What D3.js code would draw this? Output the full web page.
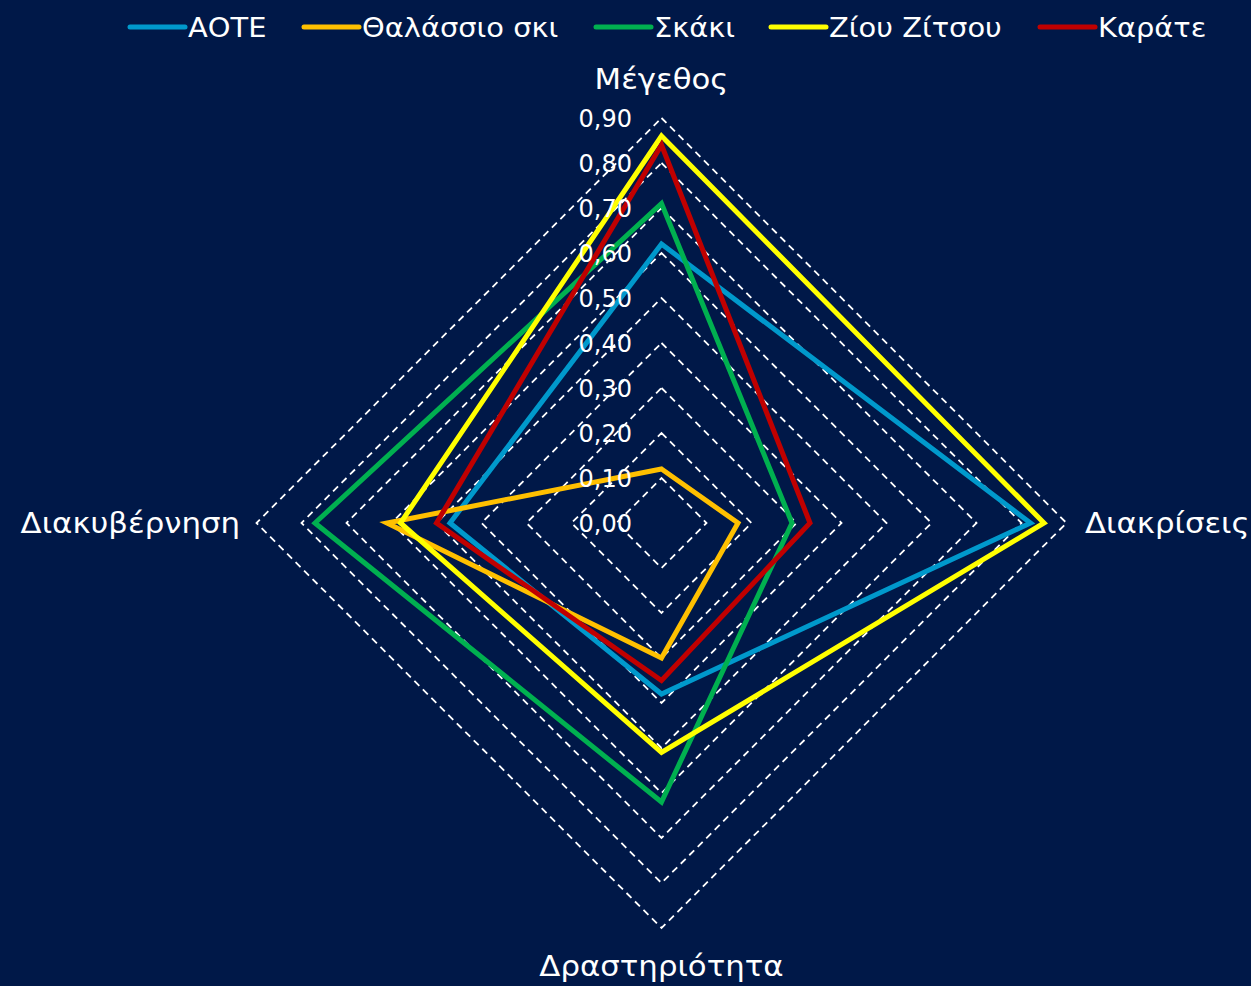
<!DOCTYPE html>
<meta charset="utf-8">
<head>
<style>
body { margin: 0; background: #001848; }
svg text { font-family: "DejaVu Sans", Verdana, sans-serif; fill: #fff; }
</style>
<script src="https://d3js.org/d3.v7.min.js"></script>
</head>
<body>
<div id="chart"></div>
<script>
var axes = ["Μέγεθος", "Διακρίσεις", "Δραστηριότητα", "Διακυβέρνηση"];
var seriesNames = ["ΑΟΤΕ", "Θαλάσσιο σκι", "Σκάκι", "Ζίου Ζίτσου", "Καράτε"];
var colors = ["#0099cc", "#ffc000", "#00b050", "#ffff00", "#c00000"];
var aote = [0.62, 0.82, 0.38, 0.47];
var thalassio = [0.12, 0.17, 0.30, 0.61];
var skaki = [0.71, 0.29, 0.62, 0.77];
var ziou = [0.86, 0.85, 0.51, 0.58];
var karate = [0.84, 0.33, 0.35, 0.50];
var ticks = [0, 0.1, 0.2, 0.3, 0.4, 0.5, 0.6, 0.7, 0.8, 0.9];
var tickLabels = ["0,00", "0,10", "0,20", "0,30", "0,40", "0,50", "0,60", "0,70", "0,80", "0,90"];

var allSeries = [aote, thalassio, skaki, ziou, karate];

var width = 1251, height = 986,
    cx = 661.5, cy = 523;

var svg = d3.select("#chart").append("svg")
    .attr("width", width)
    .attr("height", height);

svg.append("rect").attr("width", width).attr("height", height).attr("fill", "#001848");

var r = d3.scaleLinear().domain([0, 0.9]).range([0, 405]);
var angle = d3.scalePoint().domain(axes).range([0, 2 * Math.PI * 3 / 4]);

function pt(axis, v) {
  var a = angle(axis);
  return [cx + r(v) * Math.sin(a), cy - r(v) * Math.cos(a)];
}

// widen glyphs a bit, the original font runs wider than DejaVu
function stretch(sel, k) {
  sel.each(function() {
    var w = this.getComputedTextLength();
    d3.select(this).attr("textLength", w * k).attr("lengthAdjust", "spacingAndGlyphs");
  });
}

var g = svg.append("g");

// grid rings
ticks.slice(1).forEach(function(t) {
  g.append("path")
    .attr("d", d3.line()(axes.map(function(a) { return pt(a, t); })) + "Z")
    .attr("fill", "none")
    .attr("stroke", "#fff")
    .attr("stroke-width", 1.8)
    .attr("stroke-dasharray", "7,5");
});

// series
allSeries.forEach(function(s, i) {
  g.append("path")
    .attr("d", d3.line()(axes.map(function(a, j) { return pt(a, s[j]); })) + "Z")
    .attr("fill", "none")
    .attr("stroke", colors[i])
    .attr("stroke-width", 5)
    .attr("stroke-linejoin", "miter");
});

// tick labels
ticks.forEach(function(t, i) {
  g.append("text")
    .attr("x", 632)
    .attr("y", cy - r(t))
    .attr("dy", "0.36em")
    .attr("text-anchor", "end")
    .style("font-size", "24px")
    .text(tickLabels[i]);
});

// axis labels
var lab = [
  {x: cx, y: 79, anchor: "middle"},
  {x: 1085, y: cy, anchor: "start"},
  {x: cx, y: 966, anchor: "middle"},
  {x: 240, y: cy, anchor: "end"}
];
axes.forEach(function(a, i) {
  g.append("text")
    .attr("x", lab[i].x)
    .attr("y", lab[i].y)
    .attr("dy", "0.36em")
    .attr("text-anchor", lab[i].anchor)
    .style("font-size", "28px")
    .text(a)
    .call(stretch, 1.1);
});

// legend
var legX = [130, 304, 596, 771, 1040];
var legend = svg.append("g");
seriesNames.forEach(function(n, i) {
  legend.append("line")
    .attr("x1", legX[i]).attr("x2", legX[i] + 55)
    .attr("y1", 27).attr("y2", 27)
    .attr("stroke", colors[i])
    .attr("stroke-width", 5)
    .attr("stroke-linecap", "round");
  legend.append("text")
    .attr("x", legX[i] + 58)
    .attr("y", 27)
    .attr("dy", "0.36em")
    .style("font-size", "27px")
    .text(n)
    .call(stretch, 1.07);
});
</script>
</body>
